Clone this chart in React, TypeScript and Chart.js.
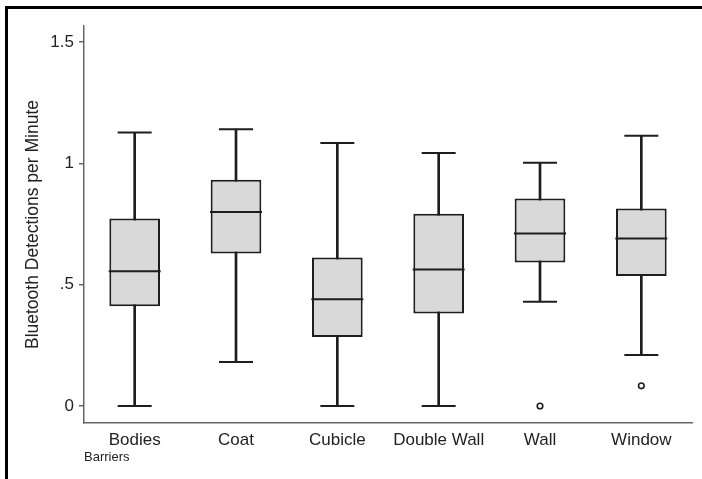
import React, { useEffect, useRef } from "react";
import { Chart, registerables } from "chart.js";

Chart.register(...registerables);

const categories = ["Bodies", "Coat", "Cubicle", "Double Wall", "Wall", "Window"];
const whiskerLow = [0, 0.181, 0, 0, 0.43, 0.21];
const q1 = [0.411, 0.629, 0.284, 0.381, 0.591, 0.536];
const median = [0.555, 0.8, 0.44, 0.563, 0.711, 0.69];
const q3 = [0.773, 0.932, 0.612, 0.792, 0.855, 0.814];
const whiskerHigh = [1.127, 1.141, 1.084, 1.043, 1.002, 1.114];
const outliers = [null, null, null, null, 0, 0.083];
const yTickValues = [0, 0.5, 1, 1.5];
const yTickLabels = ["0", ".5", "1", "1.5"];
const yTitle = "Bluetooth Detections per Minute";
const xTitle = "Barriers";

const FONT = "'Liberation Sans', Arial, sans-serif";
const TEXT = "#222";
const AXIS = "#666";
const LINE = "#1e1e1e";

export default function App() {
  const ref = useRef<HTMLCanvasElement | null>(null);

  useEffect(() => {
    if (!ref.current) return;
    const chart = new Chart(ref.current, {
      type: "bar",
      data: {
        labels: categories,
        datasets: [
          {
            type: "bar",
            label: "stems",
            data: categories.map((_, i) => [whiskerLow[i], whiskerHigh[i]]) as any,
            backgroundColor: LINE,
            borderWidth: 0,
            barThickness: 2,
            grouped: false,
            order: 5,
          } as any,
          {
            type: "bar",
            label: "box",
            data: categories.map((_, i) => [q1[i], q3[i]]) as any,
            backgroundColor: "#d9d9d9",
            borderColor: LINE,
            borderWidth: 2,
            borderSkipped: false,
            barPercentage: 0.5,
            categoryPercentage: 1,
            grouped: false,
            order: 4,
          } as any,
          {
            type: "line",
            label: "median",
            data: median,
            showLine: false,
            pointStyle: "line",
            pointRadius: 26,
            pointHoverRadius: 26,
            borderColor: LINE,
            pointBorderWidth: 2,
            order: 3,
          } as any,
          {
            type: "line",
            label: "capLow",
            data: whiskerLow,
            showLine: false,
            pointStyle: "line",
            pointRadius: 17,
            pointHoverRadius: 17,
            borderColor: LINE,
            pointBorderWidth: 2,
            order: 2,
          } as any,
          {
            type: "line",
            label: "capHigh",
            data: whiskerHigh,
            showLine: false,
            pointStyle: "line",
            pointRadius: 17,
            pointHoverRadius: 17,
            borderColor: LINE,
            pointBorderWidth: 2,
            order: 1,
          } as any,
          {
            type: "line",
            label: "outliers",
            data: outliers,
            showLine: false,
            pointStyle: "circle",
            pointRadius: 2.8,
            pointBorderWidth: 1.6,
            borderColor: LINE,
            pointBackgroundColor: "#fff",
            order: 0,
          } as any,
        ],
      },
      options: {
        responsive: false,
        animation: false,
        events: [],
        layout: { padding: { left: 0, right: 0, top: 0, bottom: 0 } },
        plugins: {
          legend: { display: false },
          tooltip: { enabled: false },
        },
        scales: {
          x: {
            type: "category",
            offset: true,
            grid: { drawOnChartArea: false, drawTicks: false, color: AXIS },
            border: { display: true, color: AXIS, width: 1.5 },
            ticks: {
              color: TEXT,
              font: { family: FONT, size: 17 },
              padding: 7,
              maxRotation: 0,
              autoSkip: false,
            },
            title: {
              display: true,
              text: xTitle,
              align: "start",
              color: TEXT,
              font: { family: FONT, size: 13 },
              padding: { top: 0, bottom: 14 },
            },
            afterFit: (s: any) => {
              s.height = 56;
              s.paddingLeft = 0;
              s.paddingRight = 0;
            },
          },
          y: {
            type: "linear",
            min: -0.07,
            max: 1.566,
            grid: { drawOnChartArea: false, drawTicks: true, tickLength: 5, color: AXIS, lineWidth: 1.5 },
            border: { display: true, color: AXIS, width: 1.5 },
            ticks: {
              color: TEXT,
              font: { family: FONT, size: 17 },
              padding: 5,
              callback: (v: any) => {
                const idx = yTickValues.indexOf(Number(v));
                return idx >= 0 ? yTickLabels[idx] : "";
              },
            },
            afterBuildTicks: (s: any) => {
              s.ticks = yTickValues.map((v) => ({ value: v }));
            },
            title: {
              display: true,
              text: yTitle,
              color: TEXT,
              font: { family: FONT, size: 17.5 },
              padding: { top: 23, bottom: 0 },
            },
            afterFit: (s: any) => {
              s.width = 84;
              s.paddingTop = 0;
              s.paddingBottom = 0;
            },
          },
        },
      } as any,
    });
    return () => chart.destroy();
  }, []);

  return (
    <div style={{ position: "fixed", left: 0, top: 0, width: 702, height: 479, background: "#fff", overflow: "hidden" }}>
      <canvas ref={ref} width={720} height={481} style={{ position: "absolute", left: 0, top: -2, width: 720, height: 481 }} />
      <div style={{ position: "absolute", left: 5, top: 6, width: 697, height: 473, borderLeft: "3px solid #000", borderTop: "3px solid #000", boxSizing: "border-box", pointerEvents: "none" }} />
    </div>
  );
}
